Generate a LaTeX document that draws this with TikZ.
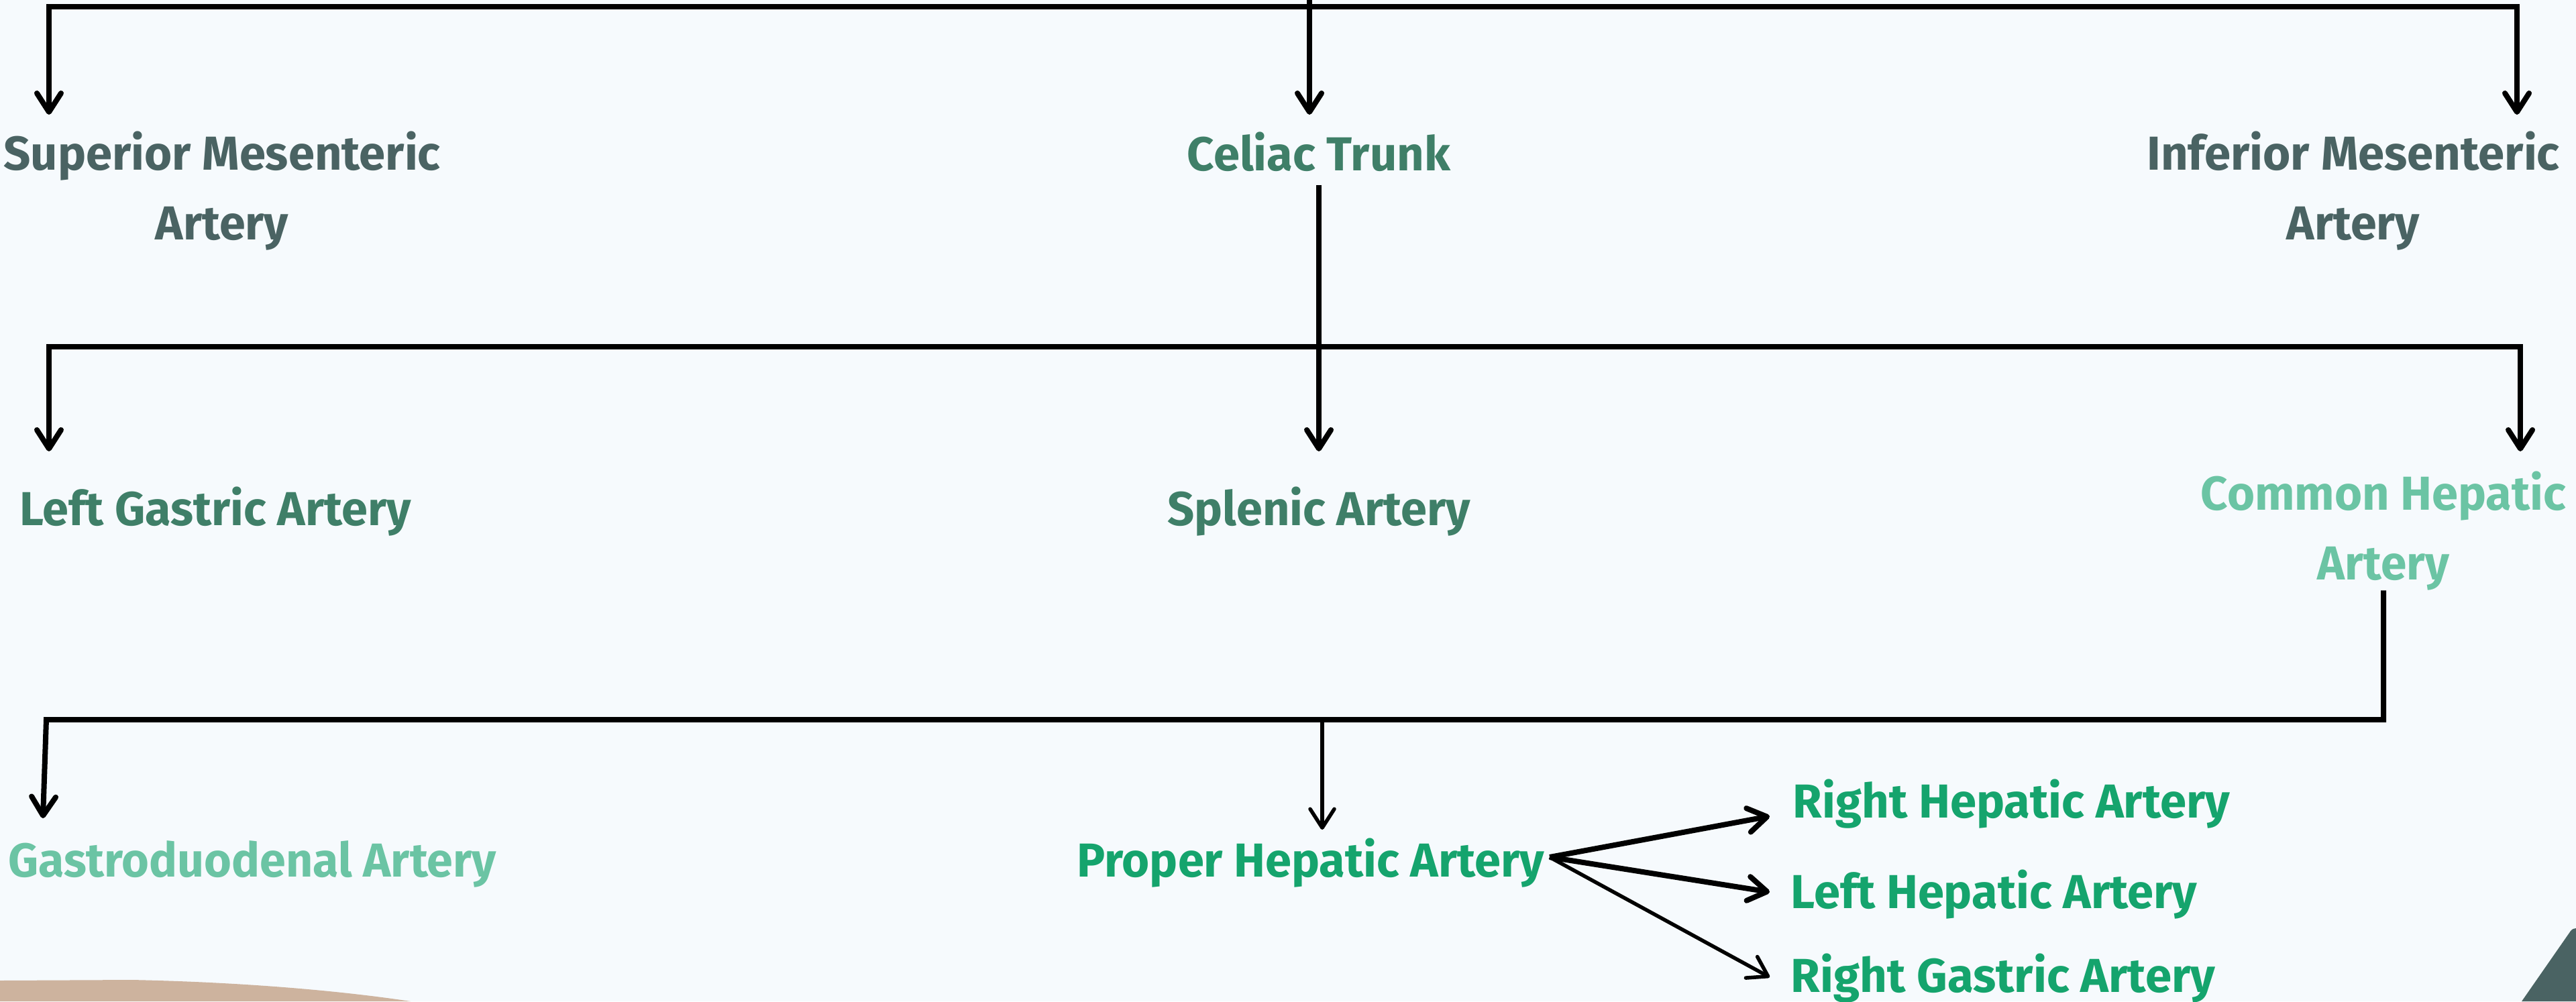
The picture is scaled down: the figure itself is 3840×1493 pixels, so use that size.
\documentclass[tikz,border=0pt]{standalone}
\usepackage{fontspec}
\setmainfont{Fira Sans}
\usepackage{graphicx}
\usetikzlibrary{arrows.meta}
\definecolor{bgc}{HTML}{F6FAFD}
\definecolor{slate}{HTML}{4A6363}
\definecolor{dkgreen}{HTML}{3F7F68}
\definecolor{ltgreen}{HTML}{6BC4A4}
\definecolor{mdgreen}{HTML}{15A46D}
\definecolor{beige}{HTML}{CDB39E}
\newcommand\fitw[2]{\resizebox{#1}{\height}{#2}}
\begin{document}
\begin{tikzpicture}[x=0.01cm,y=-0.01cm,
  lbl/.style={inner sep=0pt, font=\bfseries\fontsize{20.2pt}{29.3pt}\selectfont, anchor=base},
  ln/.style={line width=0.08cm},
  arr/.style={ln, -{Straight Barb[length=0.28cm,width=0.36cm,round]}},
  thinarr/.style={arr, line width=0.055cm},
  fanarr/.style={arr, line width=0.08cm}]
\useasboundingbox (0,0) rectangle (3840,1493);
\fill[bgc] (0,0) rectangle (3840,1493);
% decorations
\fill[beige] (0,1462) -- (196,1461) .. controls (350,1464) and (500,1476) .. (612,1493) -- (0,1493) -- cycle;
\fill[slate] (3759,1493) -- (3832,1388) .. controls (3835,1385) .. (3840,1384) -- (3840,1493) -- cycle;

% labels
\node[lbl, text=slate, align=center] (sma) at (331,357) {\fitw{6.51cm}{Superior Mesenteric}\\\fitw{1.98cm}{Artery}};
\node[lbl, text=dkgreen] (ct) at (1966,254) {\fitw{3.92cm}{Celiac Trunk}};
\node[lbl, text=slate, align=center] (ima) at (3508,357) {\fitw{6.15cm}{Inferior Mesenteric}\\\fitw{1.98cm}{Artery}};

\node[lbl, text=dkgreen] (lga) at (321,783) {\fitw{5.83cm}{Left Gastric Artery}};
\node[lbl, text=dkgreen] (spl) at (1966,783) {\fitw{4.51cm}{Splenic Artery}};
\node[lbl, text=ltgreen, align=center] (cha) at (3553,864) {\fitw{5.44cm}{Common Hepatic}\\\fitw{1.96cm}{Artery}};

\node[lbl, text=ltgreen] (gda) at (376,1307) {\fitw{7.27cm}{Gastroduodenal Artery}};
\node[lbl, text=mdgreen] (pha) at (1954,1307) {\fitw{6.96cm}{Proper Hepatic Artery}};
\node[lbl, text=mdgreen, anchor=base west] (rha) at (2672,1219) {\fitw{6.51cm}{Right Hepatic Artery}};
\node[lbl, text=mdgreen, anchor=base west] (lha) at (2669,1354) {\fitw{6.05cm}{Left Hepatic Artery}};
\node[lbl, text=mdgreen, anchor=base west] (rga) at (2669,1479) {\fitw{6.32cm}{Right Gastric Artery}};

% junctions and tips
\coordinate (root) at (1952,0);
\coordinate (b1m) at (1952,10);
\coordinate (t-sma) at (73,171);
\coordinate (t-ct) at (1952,171);
\coordinate (t-ima) at (3752,171);
\coordinate (b2m) at (1966,517);
\coordinate (t-lga) at (73,673);
\coordinate (t-spl) at (1966,673);
\coordinate (t-cha) at (3757,673);
\coordinate (b3r) at (3553,1073);
\coordinate (b3l) at (69,1073);
\coordinate (b3m) at (1971,1073);
\coordinate (t-gda) at (64,1220);
\coordinate (t-pha) at (1971,1237);
\coordinate (fan) at (2310,1278);
\coordinate (t-rha) at (2638,1217);
\coordinate (t-lha) at (2638,1330);
\coordinate (t-rga) at (2638,1457);

% connectors
\draw[arr] (root) -- (t-ct);
\draw[arr] (b1m) -| (t-sma);
\draw[arr] (b1m) -| (t-ima);
\draw[arr] ([yshift=-0.2cm]ct.south) -- (t-spl);
\draw[arr] (b2m) -| (t-lga);
\draw[arr] (b2m) -| (t-cha);
\draw[arr] (cha.south) -- (b3r) -- (b3l) -- (t-gda);
\draw[thinarr] (b3m) -- (t-pha);
\draw[fanarr] (fan) -- (t-rha);
\draw[fanarr] (fan) -- (t-lha);
\draw[thinarr] (fan) -- (t-rga);
\end{tikzpicture}
\end{document}
